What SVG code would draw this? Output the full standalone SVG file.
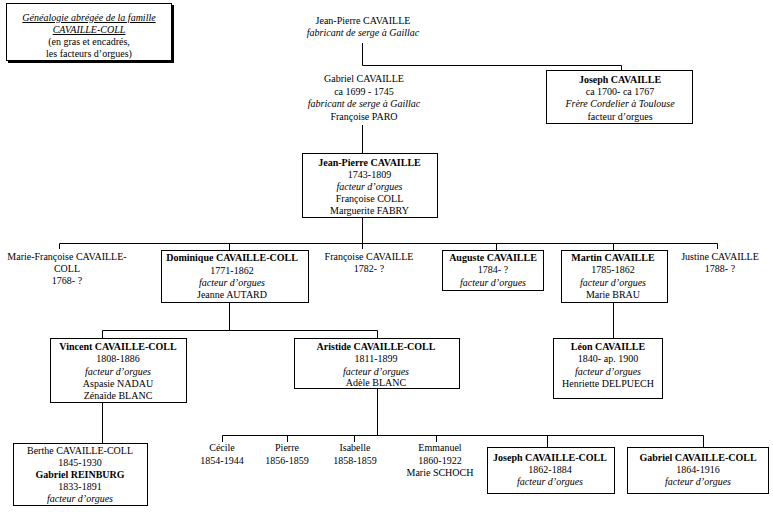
<svg xmlns="http://www.w3.org/2000/svg" width="773" height="512" viewBox="0 0 773 512">
<style>
.t{font-family:"Liberation Serif","Times New Roman",serif;font-size:10px;text-anchor:middle;fill:#000}
.b{font-weight:bold}
.i{font-style:italic}
.u{text-decoration:underline}
.box{fill:#fff;stroke:#000;stroke-width:1}
.ln{stroke:#000;stroke-width:1;fill:none}
</style>
<rect width="773" height="512" fill="#fff"/>
<g id="connectors" class="ln">
<path d="M362.5 43V65.5H621.5V70"/>
<path d="M362.5 125V153"/>
<path d="M362.5 217V249"/>
<path d="M59.5 249V243.5H717.5V249"/>
<path d="M229.5 243.5V250M496.5 243.5V250M613.5 243.5V250"/>
<path d="M229.5 302V330.5"/>
<path d="M102.5 338V330.5H377.5V338"/>
<path d="M102.5 402V443"/>
<path d="M613.5 302V338"/>
<path d="M377.5 388V435.5"/>
<path d="M222.5 442V435.5H703.5V447"/>
<path d="M287.5 435.5V442M354.5 435.5V442M436.5 435.5V442M547.5 435.5V447"/>
</g>
<g id="legend">
<rect x="8" y="5" width="166" height="58" fill="#000"/>
<rect class="box" x="6.5" y="3.5" width="165" height="57"/>
<text class="t i u" x="89" y="21">Généalogie abrégée de la famille</text>
<text class="t i u" x="89" y="33">CAVAILLE-COLL</text>
<text class="t" x="89" y="45">(en gras et encadrés,</text>
<text class="t" x="89" y="57">les facteurs d’orgues)</text>
</g>
<g id="jean-pierre-1">
<text class="t" x="363" y="24">Jean-Pierre CAVAILLE</text>
<text class="t i" x="363" y="36">fabricant de serge à Gaillac</text>
</g>
<g id="gabriel-1">
<text class="t" x="364" y="82">Gabriel CAVAILLE</text>
<text class="t" x="364" y="95">ca 1699 - 1745</text>
<text class="t i" x="364" y="107">fabricant de serge à Gaillac</text>
<text class="t" x="364" y="120">Françoise PARO</text>
</g>
<g id="joseph-1">
<rect class="box" x="546.5" y="70.5" width="146" height="53"/>
<text class="t b" x="620" y="83">Joseph CAVAILLE</text>
<text class="t" x="620" y="95">ca 1700- ca 1767</text>
<text class="t i" x="620" y="107">Frère Cordelier à Toulouse</text>
<text class="t" x="620" y="120">facteur d’orgues</text>
</g>
<g id="jean-pierre-2">
<rect class="box" x="302.5" y="153.5" width="135" height="64"/>
<text class="t b" x="369.5" y="166">Jean-Pierre CAVAILLE</text>
<text class="t" x="369.5" y="178">1743-1809</text>
<text class="t i" x="369.5" y="190">facteur d’orgues</text>
<text class="t" x="369.5" y="202">Françoise COLL</text>
<text class="t" x="369.5" y="214">Marguerite FABRY</text>
</g>
<g id="marie-francoise">
<text class="t" x="67" y="260">Marie-Françoise CAVAILLE-</text>
<text class="t" x="67" y="272">COLL</text>
<text class="t" x="67" y="284">1768- ?</text>
</g>
<g id="dominique">
<rect class="box" x="161.5" y="250.5" width="147" height="52"/>
<text class="t b" x="232" y="261">Dominique CAVAILLE-COLL</text>
<text class="t" x="232" y="274">1771-1862</text>
<text class="t i" x="232" y="286">facteur d’orgues</text>
<text class="t" x="232" y="298">Jeanne AUTARD</text>
</g>
<g id="francoise">
<text class="t" x="369" y="260">Françoise CAVAILLE</text>
<text class="t" x="369" y="272">1782- ?</text>
</g>
<g id="auguste">
<rect class="box" x="442.5" y="250.5" width="101" height="40"/>
<text class="t b" x="493" y="261">Auguste CAVAILLE</text>
<text class="t" x="493" y="273">1784- ?</text>
<text class="t i" x="493" y="286">facteur d’orgues</text>
</g>
<g id="martin">
<rect class="box" x="561.5" y="250.5" width="106" height="52"/>
<text class="t b" x="613" y="261">Martin CAVAILLE</text>
<text class="t" x="613" y="273">1785-1862</text>
<text class="t i" x="613" y="286">facteur d’orgues</text>
<text class="t" x="613" y="298">Marie BRAU</text>
</g>
<g id="justine">
<text class="t" x="720" y="260">Justine CAVAILLE</text>
<text class="t" x="720" y="272">1788- ?</text>
</g>
<g id="vincent">
<rect class="box" x="50.5" y="338.5" width="136" height="64"/>
<text class="t b" x="118" y="350">Vincent CAVAILLE-COLL</text>
<text class="t" x="118" y="362">1808-1886</text>
<text class="t i" x="118" y="375">facteur d’orgues</text>
<text class="t" x="118" y="387">Aspasie NADAU</text>
<text class="t" x="118" y="399">Zénaïde BLANC</text>
</g>
<g id="aristide">
<rect class="box" x="294.5" y="338.5" width="165" height="50"/>
<text class="t b" x="376" y="350">Aristide CAVAILLE-COLL</text>
<text class="t" x="376" y="362">1811-1899</text>
<text class="t i" x="376" y="375">facteur d’orgues</text>
<text class="t" x="376" y="386">Adèle BLANC</text>
</g>
<g id="leon">
<rect class="box" x="553.5" y="338.5" width="109" height="60"/>
<text class="t b" x="608" y="350">Léon CAVAILLE</text>
<text class="t" x="608" y="362">1840- ap. 1900</text>
<text class="t i" x="608" y="375">facteur d’orgues</text>
<text class="t" x="608" y="387">Henriette DELPUECH</text>
</g>
<g id="berthe">
<rect class="box" x="13.5" y="443.5" width="134" height="62"/>
<text class="t" x="80" y="454">Berthe CAVAILLE-COLL</text>
<text class="t" x="80" y="466">1845-1930</text>
<text class="t b" x="80" y="478">Gabriel REINBURG</text>
<text class="t" x="80" y="490">1833-1891</text>
<text class="t i" x="80" y="502">facteur d’orgues</text>
</g>
<g id="cecile">
<text class="t" x="222" y="451">Cécile</text>
<text class="t" x="222" y="464">1854-1944</text>
</g>
<g id="pierre">
<text class="t" x="287" y="451">Pierre</text>
<text class="t" x="287" y="464">1856-1859</text>
</g>
<g id="isabelle">
<text class="t" x="355" y="451">Isabelle</text>
<text class="t" x="355" y="464">1858-1859</text>
</g>
<g id="emmanuel">
<text class="t" x="440" y="451">Emmanuel</text>
<text class="t" x="440" y="464">1860-1922</text>
<text class="t" x="440" y="476">Marie SCHOCH</text>
</g>
<g id="joseph-2">
<rect class="box" x="487.5" y="447.5" width="127" height="46"/>
<text class="t b" x="550" y="461">Joseph CAVAILLE-COLL</text>
<text class="t" x="550" y="473">1862-1884</text>
<text class="t i" x="550" y="485">facteur d’orgues</text>
</g>
<g id="gabriel-2">
<rect class="box" x="627.5" y="447.5" width="141" height="46"/>
<text class="t b" x="698" y="461">Gabriel CAVAILLE-COLL</text>
<text class="t" x="698" y="473">1864-1916</text>
<text class="t i" x="698" y="485">facteur d’orgues</text>
</g>
</svg>
